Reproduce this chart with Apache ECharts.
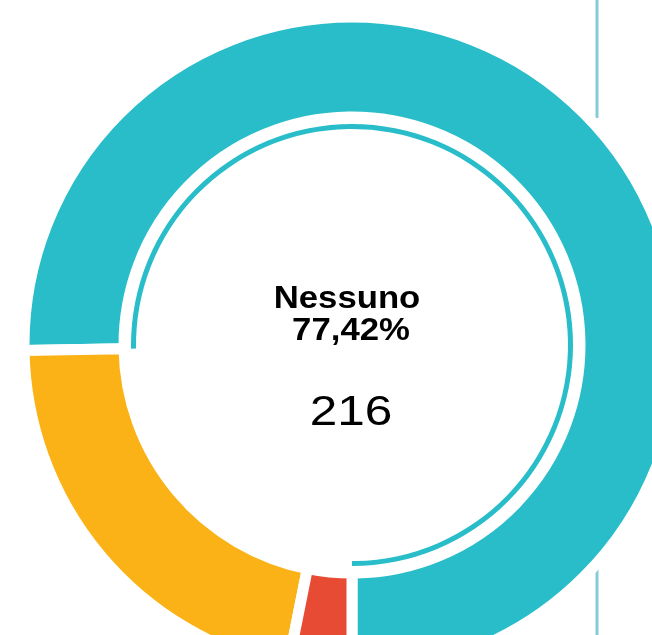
<!DOCTYPE html>
<html>
<head>
<meta charset="utf-8">
<script src="https://cdn.jsdelivr.net/npm/echarts@6/dist/echarts.min.js"></script>
<style>
  html, body { margin: 0; padding: 0; background: #fff; }
  #chart { width: 652px; height: 635px; }
</style>
</head>
<body>
<div id="chart"></div>
<script>
// dati
const categories = ['Nessuno', 'Categoria 2', 'Categoria 3']
const values = [216, 62, 9]
const colors = ['#29bdca', '#fab217', '#e84b33']
// testo centrale
const centerTitle = 'Nessuno'
const centerPercent = '77,42%'
const centerValue = '216'

const chart = echarts.init(document.getElementById('chart'))

const pieData = categories.map((name, i) => ({
  name: name,
  value: values[i],
  itemStyle: {color: colors[i]}
}))

// anello sottile interno solo per la prima fetta
const ringData = categories.map((name, i) => ({
  name: name,
  value: values[i],
  itemStyle: {color: i === 0 ? colors[0] : 'transparent'}
}))

chart.setOption({
  animation: false,
  series: [
    {
      type: 'pie',
      center: [352, 345],
      radius: [228, 328],
      startAngle: 270,
      clockwise: false,
      silent: true,
      label: {show: false},
      labelLine: {show: false},
      itemStyle: {
        borderColor: '#fff',
        borderWidth: 11
      },
      data: pieData
    },
    {
      type: 'pie',
      center: [352, 345],
      radius: [216, 221],
      startAngle: 270,
      clockwise: false,
      silent: true,
      label: {show: false},
      labelLine: {show: false},
      data: ringData
    }
  ],
  graphic: [
    // linee verticali a destra (sotto la torta)
    {
      type: 'line',
      shape: {x1: 597, y1: 0, x2: 597, y2: 118},
      style: {stroke: '#84cdd8', lineWidth: 3}
    },
    {
      type: 'line',
      shape: {x1: 597, y1: 555, x2: 597, y2: 635},
      style: {stroke: '#84cdd8', lineWidth: 3}
    },
    {
      type: 'text',
      z: 100,
      x: 347,
      y: 299,
      scaleX: 1.12,
      style: {
        text: centerTitle,
        align: 'center',
        verticalAlign: 'middle',
        font: 'bold 31px "Liberation Sans", Arial, sans-serif',
        fill: '#000'
      }
    },
    {
      type: 'text',
      z: 100,
      x: 351,
      y: 331,
      scaleX: 1.12,
      style: {
        text: centerPercent,
        align: 'center',
        verticalAlign: 'middle',
        font: 'bold 31px "Liberation Sans", Arial, sans-serif',
        fill: '#000'
      }
    },
    {
      type: 'text',
      z: 100,
      x: 351,
      y: 413,
      scaleX: 1.15,
      style: {
        text: centerValue,
        align: 'center',
        verticalAlign: 'middle',
        font: '43px "Liberation Sans", Arial, sans-serif',
        fill: '#000'
      }
    }
  ]
})
</script>
</body>
</html>
